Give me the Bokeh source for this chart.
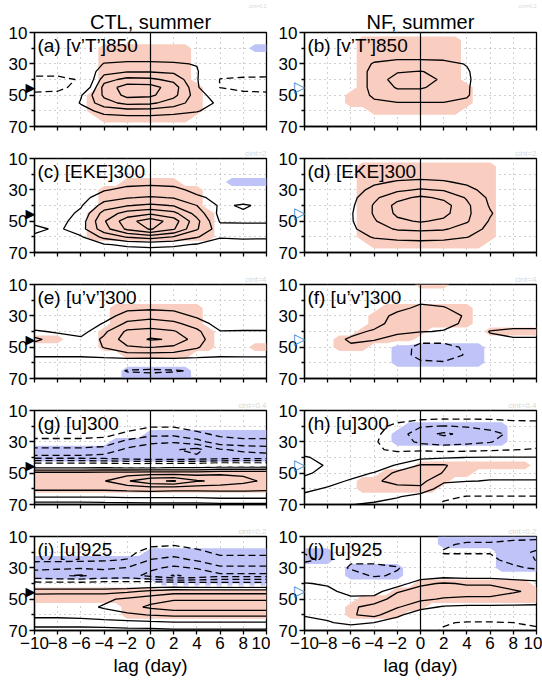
import numpy as np
from bokeh.plotting import figure
from bokeh.layouts import column, row
from bokeh.models import Range1d, FixedTicker, Span, Label, Title, LinearAxis
from bokeh.embed import file_html
from bokeh.resources import INLINE

# ---------------- axes / labels ----------------
LAGS = [-10, -8, -6, -4, -2, 0, 2, 4, 6, 8, 10]
LATS = [10, 15, 20, 25, 30, 35, 40, 45, 50, 55, 60, 65, 70]
SIG_LAGS = list(range(-10, 11))
X_TICKS = [-10, -8, -6, -4, -2, 0, 2, 4, 6, 8, 10]
X_TICK_LABELS = ["−10", "−8", "−6", "−4", "−2", "0", "2", "4", "6", "8", "10"]
Y_TICKS = [10, 30, 50, 70]
Y_MINOR_TICKS = [20, 40, 60]
GRID_LATS = [20, 30, 40, 50, 60]
POS_LEVELS = [1, 2, 3, 4, 5, 6, 7, 8]
NEG_LEVELS = [-8, -7, -6, -5, -4, -3, -2, -1]
MARKER_LAT = 45
COLUMN_TITLES = ["CTL, summer", "NF, summer"]
X_TITLE = "lag (day)"
PANEL_LABELS = ["(a) [v’T’]850", "(b) [v’T’]850", "(c) [EKE]300", "(d) [EKE]300",
                "(e) [u’v’]300", "(f) [u’v’]300", "(g) [u]300", "(h) [u]300",
                "(i) [u]925", "(j) [u]925"]
CINT_LABELS = ["cint=0.2", "cint=0.2", "cint=2", "cint=2", "cint=4", "cint=4",
               "cint=0.4", "cint=0.4", "cint=0.2", "cint=0.2"]
ZERO_LINE = [False, False, False, False, False, False, True, False, True, False]

# ---------------- contour fields (rows: lat 10..70, cols: lag -10..10) ----------------
A_Z = [
    [0, 0, 0, 0, 0, 0, 0, 0, 0, 0, 0],
    [0, 0, 0, 0.1, 0.2, 0.2, 0.2, 0.1, 0, 0, 0],
    [0, 0, 0, 0.2, 0.4, 0.4, 0.3, 0.2, 0, 0, 0],
    [-0.1, -0.1, 0.1, 0.5, 0.6, 0.6, 0.55, 0.3, 0, -0.1, -0.1],
    [-0.3, -0.3, 0.2, 1.05, 1.15, 1.15, 1.1, 0.95, 0, -0.3, -0.3],
    [-0.6, -0.6, -0.1, 1.6, 1.95, 1.95, 1.8, 1.1, -0.4, -0.5, -0.6],
    [-1.3, -1.3, -0.9, 2.6, 3.3, 3.2, 2.7, 1.1, -1.05, -1.2, -1.2],
    [-1.3, -1.3, -0.6, 3.4, 4.5, 4.4, 3.5, 1.2, -1.05, -1.2, -1.3],
    [-0.8, -0.7, 0.9, 3.2, 4.3, 4.2, 3.3, 1.5, 0.3, -0.8, -0.8],
    [-0.3, -0.2, 1.1, 2.6, 3.3, 3.2, 2.5, 1.5, 0.8, -0.2, -0.3],
    [0, 0, 0.5, 1.4, 1.6, 1.6, 1.4, 1.1, 0.4, 0, 0],
    [0, 0, 0.2, 0.5, 0.6, 0.6, 0.5, 0.4, 0.2, 0, 0],
    [0, 0, 0, 0.1, 0.1, 0.1, 0.1, 0.1, 0, 0, 0],
]
B_Z = [
    [0, 0, 0, 0, 0, 0, 0, 0, 0, 0, 0],
    [0, 0, 0, 0.1, 0.2, 0.2, 0.2, 0.1, 0, 0, 0],
    [0, 0, 0.1, 0.3, 0.4, 0.4, 0.4, 0.2, 0, 0, 0],
    [0, 0, 0.2, 0.6, 0.75, 0.75, 0.7, 0.4, 0.1, 0, 0],
    [0, 0, 0.3, 1.1, 1.3, 1.3, 1.25, 0.95, 0.3, 0, 0],
    [0, 0, 0.3, 1.3, 1.9, 2.05, 1.7, 1.1, 0.3, 0, 0],
    [0, 0, 0.3, 1.3, 2.5, 2.5, 1.8, 1.15, 0.3, 0, 0],
    [0, 0, 0.3, 1.3, 2.1, 2.1, 1.7, 1.1, 0.3, 0, 0],
    [0, 0, 0.2, 1.2, 1.6, 1.6, 1.5, 1.1, 0.2, 0, 0],
    [0, 0, 0.1, 0.8, 0.95, 0.95, 0.95, 0.8, 0.1, 0, 0],
    [0, 0, 0, 0.4, 0.5, 0.5, 0.5, 0.4, 0, 0, 0],
    [0, 0, 0, 0.1, 0.2, 0.2, 0.2, 0.1, 0, 0, 0],
    [0, 0, 0, 0, 0, 0, 0, 0, 0, 0, 0],
]
C_Z = [
    [0, 0, 0, 0, 0, 0, 0, 0, 0, 0, 0],
    [0, 0, 0, 0, 0.1, 0.1, 0.1, 0, 0, 0, 0],
    [0, 0, 0, 0.1, 0.3, 0.3, 0.3, 0.1, 0, 0, 0],
    [0, 0, 0, 0.3, 0.6, 0.7, 0.6, 0.3, 0.1, 0, 0],
    [0, 0.1, 0.3, 0.9, 1.3, 1.4, 1.3, 0.7, 0.4, 0.2, 0.1],
    [0.1, 0.2, 0.6, 1.6, 1.95, 2.1, 1.95, 1.2, 0.7, 0.5, 0.3],
    [0.2, 0.3, 0.9, 2.4, 2.95, 3.2, 2.95, 2.0, 0.85, 1.1, 0.8],
    [0.4, 0.5, 1.2, 3.4, 4.4, 4.8, 4.3, 2.6, 0.7, 0.9, 0.8],
    [0.7, 0.6, 1.5, 3.9, 5.6, 6.6, 5.5, 3.3, 0.9, 0.9, 0.9],
    [1.3, 0.8, 1.6, 3.6, 5.2, 6.1, 5.1, 3.1, 1.4, 1.3, 1.3],
    [0.8, 0.6, 0.9, 2.3, 3.1, 3.5, 2.95, 2.1, 1.1, 1.2, 1.2],
    [0.2, 0.2, 0.3, 0.9, 1.2, 1.3, 1.2, 0.9, 0.5, 0.5, 0.4],
    [0, 0, 0, 0.3, 0.4, 0.5, 0.4, 0.3, 0.1, 0.1, 0],
]
D_Z = [
    [0, 0, 0, 0, 0, 0, 0, 0, 0, 0, 0],
    [0, 0, 0, 0.1, 0.2, 0.2, 0.2, 0.1, 0, 0, 0],
    [0, 0, 0.1, 0.3, 0.5, 0.6, 0.5, 0.3, 0.1, 0, 0],
    [0, 0, 0.3, 0.8, 1.1, 1.2, 1.1, 0.8, 0.3, 0, 0],
    [0, 0.1, 0.5, 1.3, 1.8, 2.1, 1.9, 1.3, 0.6, 0.1, 0],
    [0, 0.1, 0.7, 1.8, 2.7, 3.2, 2.8, 1.9, 0.8, 0.2, 0],
    [0, 0.2, 0.8, 2.1, 3.3, 3.6, 3.4, 2.2, 0.9, 0.2, 0],
    [0, 0.2, 0.9, 2.1, 3.2, 3.5, 3.3, 2.2, 1.1, 0.2, 0],
    [0, 0.2, 0.9, 1.9, 2.8, 3.1, 2.8, 2.1, 0.9, 0.2, 0],
    [0, 0.1, 0.8, 1.6, 2.1, 2.2, 2.1, 1.6, 0.7, 0.1, 0],
    [0, 0, 0.5, 1.1, 1.3, 1.4, 1.3, 1.05, 0.4, 0, 0],
    [0, 0, 0.2, 0.5, 0.6, 0.6, 0.6, 0.4, 0.1, 0, 0],
    [0, 0, 0, 0.1, 0.2, 0.2, 0.2, 0.1, 0, 0, 0],
]
E_Z = [
    [0, 0, 0, 0, 0, 0, 0, 0, 0, 0, 0],
    [0, 0, 0, 0, 0, 0, 0, 0, 0, 0, 0],
    [0, 0, 0, 0.1, 0.2, 0.2, 0.2, 0.1, 0, 0, 0],
    [0, 0, 0, 0.2, 0.7, 0.8, 0.7, 0.3, 0, 0, 0],
    [0.1, 0.1, 0, 0.5, 1.5, 1.7, 1.5, 0.8, 0.1, 0.1, 0.1],
    [0.5, 0.4, 0.2, 1.1, 2.2, 2.4, 2.2, 1.6, 0.5, 0.3, 0.3],
    [1.1, 0.9, 0.6, 1.8, 3.2, 3.4, 3.1, 2.2, 1.05, 1.1, 1.1],
    [2.3, 1.4, 1.2, 2.2, 3.5, 4.1, 3.9, 2.4, 1.3, 1.3, 1.3],
    [1.4, 1.3, 1.3, 2.05, 2.9, 3.05, 2.8, 2.1, 1.3, 1.3, 1.3],
    [1.2, 1.2, 1.2, 1.4, 1.6, 1.6, 1.6, 1.4, 1.2, 1.2, 1.2],
    [0.3, 0.3, 0.3, 0.2, 0.2, 0.05, 0.2, 0.2, 0.3, 0.4, 0.4],
    [0, 0, 0, -0.2, -1.1, -1.2, -1.1, -0.9, 0, 0, 0],
    [0, 0, 0, -0.1, -0.5, -0.5, -0.5, -0.3, 0, 0, 0],
]
F_Z = [
    [0, 0, 0, 0, 0.1, 0.2, 0.2, 0.1, 0, 0, 0],
    [0, 0, 0, 0.1, 0.2, 0.4, 0.3, 0.1, 0, 0, 0],
    [0, 0, 0, 0.1, 0.3, 0.7, 0.5, 0.2, 0, 0, 0],
    [0, 0, 0.1, 0.2, 0.6, 1.3, 1.1, 0.4, 0.1, 0, 0],
    [0, 0, 0.2, 0.3, 1.4, 1.8, 1.7, 0.8, 0.2, 0.1, 0.1],
    [0, 0.1, 0.3, 0.5, 1.6, 1.6, 1.5, 0.7, 0.5, 0.5, 0.5],
    [0.1, 0.2, 0.6, 1.2, 1.3, 1.1, 0.9, 0.3, 1.05, 1.3, 1.3],
    [0.2, 0.4, 1.2, 1.1, 0.5, -0.7, -0.6, -0.3, 0.8, 0.9, 0.9],
    [0.1, 0.3, 0.8, 0.3, -0.5, -1.3, -1.4, -0.8, -0.4, 0, 0],
    [0, 0.1, 0.2, 0, -0.4, -1.4, -1.5, -0.9, -0.3, 0, 0],
    [0, 0, 0, 0, -0.2, -0.8, -0.9, -0.5, -0.1, 0, 0],
    [0, 0, 0, 0, -0.1, -0.3, -0.3, -0.2, 0, 0, 0],
    [0, 0, 0, 0, 0, 0, 0, 0, 0, 0, 0],
]
G_Z = [
    [0, 0, 0, 0, -0.1, -0.2, -0.2, -0.1, 0, 0, 0],
    [-0.1, -0.1, -0.1, -0.2, -0.3, -0.5, -0.5, -0.3, -0.2, -0.2, -0.2],
    [-0.3, -0.3, -0.3, -0.4, -0.6, -0.9, -0.9, -0.6, -0.4, -0.4, -0.4],
    [-0.6, -0.6, -0.6, -0.7, -1.2, -1.7, -1.7, -1.2, -0.8, -0.7, -0.7],
    [-1.3, -1.3, -1.3, -1.4, -2.3, -2.8, -2.9, -2.4, -1.4, -1.2, -1.2],
    [-2.2, -2.2, -2.2, -2.4, -3.2, -3.6, -3.9, -4.3, -3.1, -2.8, -2.6],
    [-3.3, -3.3, -3.3, -3.4, -3.7, -3.9, -3.9, -3.8, -3.6, -3.5, -3.5],
    [-0.1, -0.1, -0.1, -0.1, -0.2, -0.2, -0.1, -0.1, 0.2, 0.2, 0.2],
    [3.4, 3.4, 3.4, 3.5, 3.5, 3.6, 3.6, 3.6, 3.8, 3.8, 3.8],
    [3.7, 3.7, 3.7, 3.95, 4.9, 5.8, 6.1, 5.1, 4.8, 4.3, 3.8],
    [3.2, 3.2, 3.2, 3.2, 3.3, 3.4, 3.3, 3.3, 3.3, 3.3, 3.2],
    [2.1, 2.1, 2.1, 2.1, 2.2, 2.2, 2.2, 2.2, 2.3, 2.3, 2.3],
    [0.5, 0.5, 0.5, 0.6, 0.6, 0.7, 0.7, 0.7, 0.8, 0.8, 0.8],
]
H_Z = [
    [0, 0, 0, 0, -0.2, -0.4, -0.4, -0.4, -0.4, -0.4, -0.4],
    [0, 0, 0, -0.3, -0.6, -0.8, -0.9, -0.9, -0.9, -0.8, -0.8],
    [0, 0, -0.1, -0.6, -1.3, -1.9, -2.05, -1.9, -1.7, -1.5, -1.4],
    [0, 0, -0.2, -0.8, -1.5, -2.6, -3.2, -2.7, -2.3, -1.8, -1.6],
    [0.2, 0, -0.1, -0.9, -1.5, -2.2, -2.3, -2.2, -2.05, -1.6, -1.5],
    [0.5, 0.3, 0.1, -0.7, -1.4, -1.3, -1.6, -1.5, -1.3, -1.05, -0.9],
    [1.1, 0.7, 0.4, -0.1, 0.2, 0.7, 0.9, 1.02, 1.1, 1.1, 1.1],
    [1.4, 0.9, 0.6, 0.5, 1.1, 2.1, 2.1, 1.5, 1.4, 1.4, 1.4],
    [1.1, 0.8, 0.7, 1.05, 2.3, 2.5, 1.95, 1.4, 1.3, 1.3, 1.3],
    [0.8, 0.7, 1.1, 1.8, 2.4, 2.3, 1.2, 1.05, 0.95, 0.95, 0.95],
    [0.8, 1.1, 1.5, 1.9, 1.6, 1.8, 0.4, 0.2, -0.3, -0.3, -0.3],
    [1.2, 1.4, 1.5, 1.5, 1.1, 0.5, -0.6, -1.1, -1.05, -1.05, -1.05],
    [1.3, 1.2, 1.05, 0.8, 0.4, 0.05, -1.3, -1.2, -1.3, -1.3, -1.3],
]
I_Z = [
    [0, 0, 0, 0, -0.1, -0.3, -0.4, -0.3, -0.2, -0.2, -0.2],
    [-0.1, -0.1, -0.1, -0.2, -0.4, -0.8, -0.9, -0.7, -0.5, -0.5, -0.5],
    [-0.4, -0.4, -0.4, -0.5, -0.7, -1.4, -1.6, -1.2, -0.8, -0.8, -0.8],
    [-0.8, -0.8, -0.8, -0.9, -1.05, -2.05, -2.3, -1.9, -1.3, -1.3, -1.3],
    [-1.7, -1.8, -1.9, -1.8, -2.05, -2.8, -3.2, -2.9, -2.2, -2.2, -2.2],
    [-2.7, -2.9, -3.1, -2.7, -2.6, -3.3, -4.1, -3.8, -3.3, -3.3, -3.3],
    [-0.6, -0.6, -0.6, -0.5, -0.5, -0.3, -0.4, -0.5, -0.6, -0.6, -0.6],
    [1.6, 1.6, 1.6, 1.6, 1.8, 2.2, 2.6, 2.6, 2.6, 2.6, 2.6],
    [2.7, 2.8, 2.8, 2.8, 3.2, 3.6, 3.9, 3.9, 3.9, 3.9, 3.9],
    [2.5, 2.6, 2.7, 3.1, 3.6, 4.2, 4.6, 4.6, 4.6, 4.6, 4.6],
    [2.3, 2.3, 2.4, 2.6, 2.8, 3.05, 3.2, 3.2, 3.2, 3.2, 3.2],
    [1.5, 1.5, 1.5, 1.6, 1.7, 1.8, 1.9, 1.9, 1.9, 1.9, 1.9],
    [0.6, 0.6, 0.6, 0.6, 0.7, 0.7, 0.8, 0.8, 0.8, 0.8, 0.8],
]
J_Z = [
    [-0.2, -0.1, 0, 0, 0, -0.1, -0.5, -0.7, -0.7, -0.8, -0.8],
    [-0.6, -0.4, -0.2, -0.1, -0.1, -0.3, -0.9, -1.1, -1.1, -1.2, -1.3],
    [-0.95, -0.7, -0.5, -0.3, -0.3, -0.5, -1.05, -1.05, -1.05, -1.4, -2.2],
    [-1.2, -0.8, -0.9, -0.8, -0.7, -0.9, -0.8, -0.8, -0.8, -1.3, -2.05],
    [-0.5, -0.5, -1.1, -1.2, -1.05, -0.6, -0.3, -0.4, -0.4, -0.8, -1.2],
    [0.4, 0.2, -0.6, -1.1, -0.9, 0.2, 0.6, 0.5, 0.5, 0.4, 0.2],
    [1.05, 0.9, 0.2, -0.2, 0.3, 1.8, 2.1, 1.9, 1.9, 1.6, 1.4],
    [1.3, 1.2, 0.7, 0.5, 1.9, 2.4, 2.5, 2.4, 2.4, 2.1, 1.8],
    [1.2, 1.3, 1.2, 1.4, 2.5, 2.2, 1.9, 1.8, 1.8, 1.6, 1.5],
    [1.1, 1.4, 1.8, 2.4, 2.1, 1.3, 0.9, 0.8, 0.8, 0.8, 0.8],
    [1.05, 1.3, 1.9, 2.3, 1.2, 0.4, 0.05, -0.2, -0.2, -0.2, -0.2],
    [0.8, 0.9, 1.3, 1.0, 0.5, -0.4, -0.9, -1.1, -1.1, -1.0, -0.9],
    [-0.2, -0.1, 0.2, 0.3, 0.1, -0.6, -1.1, -1.2, -1.2, -1.2, -1.1],
]

# ---------------- significance (rows: lat 10..70, chars: lag -10..10 by 1 day) ----------------
# '+' significant positive (red), '-' significant negative (blue), '.' not significant
A_SIG = [".....................", ".....................", "......++++++++.....--",
         "......++++++++.......", "......++++++++.......", "......++++++++.......",
         "......++++++++.......", "......+++++++++......", ".....++++++++++......",
         ".....++++++++++......", ".....++++++++++......", "......++++++++.......",
         "....................."]
B_SIG = [".....................", ".....+++++++++.......", ".....+++++++++.......",
         ".....+++++++++.......", ".....+++++++++.......", ".....+++++++++.......",
         ".....+++++++++.......", ".....++++++++++......", "....+++++++++++......",
         "....+++++++++++......", "......++++++++.......", ".....................",
         "....................."]
C_SIG = [".....................", ".....................", ".....................",
         "........+++++....----", "......+++++++++......", "......+++++++++......",
         "......+++++++++......", ".....+++++++++++.....", ".....+++++++++++.....",
         ".....+++++++++++.....", ".....+++++++++++.....", ".....................",
         "....................."]
D_SIG = [".....................", ".....++++++++++++....", ".....++++++++++++....",
         ".....++++++++++++....", ".....++++++++++++....", ".....++++++++++++....",
         ".....++++++++++++....", ".....++++++++++++....", ".....++++++++++++....",
         ".....++++++++++++....", ".....++++++++++++....", "......++++++++++.....",
         "....................."]
E_SIG = [".....................", ".....................", ".....................",
         ".......++++++++......", ".......++++++++......", ".......++++++++......",
         "......++++++++++.....", "+++...++++++++++.....", "......++++++++++...++",
         "........++++++.......", ".....................", "........------.......",
         "........------......."]
F_SIG = ["..........+++........", ".....................", ".....................",
         ".......++++++++......", "......+++++++++......", "......+++++++++......",
         ".....++++++.....+++++", "...+++++++...........", "...+++..--------.....",
         "........--------.....", "........--------.....", ".....................",
         "....................."]
G_SIG = [".....................", ".....................", ".....................",
         "..........-----------", ".......--------------", "---------------------",
         "---------------------", ".....................", "+++++++++++++++++++++",
         "+++++++++++++++++++++", "+++++++++++++++++++++", ".....................",
         "....................."]
H_SIG = [".....................", ".....................", ".........---------...",
         "........----------...", "........----------...", ".....................",
         ".....................", "..........++++++++++.", ".......++++++++......",
         ".....++++++++........", ".....+++++++.........", ".....................",
         "....................."]
I_SIG = [".....................", ".....................", "..........-----------",
         "---------------------", "---------------------", "---------------------",
         "...........----------", "+++++++++++++++++++++", "+++++++++++++++++++++",
         "........+++++++++++++", "........+++++++++++++", ".....................",
         "....................."]
J_SIG = ["............---------", "............---------", "---..............----",
         "---..............----", "....-----........----", "....-----............",
         "..........++++++++++.", "........+++++++++++++", ".....++++++++++++++++",
         "....+++++++..........", "....+++++............", ".....................",
         "....................."]

FIELDS = [A_Z, B_Z, C_Z, D_Z, E_Z, F_Z, G_Z, H_Z, I_Z, J_Z]
SIGS = [A_SIG, B_SIG, C_SIG, D_SIG, E_SIG, F_SIG, G_SIG, H_SIG, I_SIG, J_SIG]

# ---------------- styling ----------------
PINK = "#f9cdbf"
BLUE = "#c0c3f8"
FONT = "Liberation Sans"
SIG_CODE = {"+": 1.0, "-": -1.0, ".": 0.0}
MARKERS = [("▶", "black", "13px"), ("▷", "#2f86d0", "15px")]


def make_panel(k):
    col = k % 2
    r = k // 2
    first, last = r == 0, r == 4
    p = figure(frame_width=232, frame_height=94,
               min_border_left=34, min_border_right=4 if col == 0 else 6,
               min_border_top=32 if first else 20,
               min_border_bottom=52 if last else 12,
               x_range=Range1d(-10, 10), y_range=Range1d(70, 10),
               output_backend="svg", toolbar_location=None, tools="")
    p.background_fill_color = "white"
    p.border_fill_color = "white"
    p.outline_line_color = "black"
    p.outline_line_width = 1.3

    z = np.array(FIELDS[k], dtype=float)
    s = np.array([[SIG_CODE[c] for c in line] for line in SIGS[k]], dtype=float)

    if (s > 0.5).any():
        p.contour(SIG_LAGS, LATS, s, levels=[0.5, 2.0], fill_color=PINK, line_color=None)
    if (s < -0.5).any():
        p.contour(SIG_LAGS, LATS, s, levels=[-2.0, -0.5], fill_color=BLUE, line_color=None)

    p.contour(LAGS, LATS, z, levels=POS_LEVELS, line_color="black", line_width=1.3)
    p.contour(LAGS, LATS, z, levels=NEG_LEVELS, line_color="black", line_width=1.3,
              line_dash="7 4")
    if ZERO_LINE[k]:
        p.contour(LAGS, LATS, z, levels=[0.0], line_color="white", line_width=3,
                  line_dash="6 5")

    p.add_layout(Span(location=0, dimension="height", line_color="black", line_width=1.2))

    # grids
    p.xgrid.ticker = FixedTicker(ticks=X_TICKS)
    p.ygrid.ticker = FixedTicker(ticks=GRID_LATS)
    for g in (p.xgrid, p.ygrid):
        g.grid_line_color = "#a0a0a0"
        g.grid_line_dash = "1 4"
        g.grid_line_width = 1

    # x axis
    xa = p.xaxis[0]
    xa.ticker = FixedTicker(ticks=X_TICKS)
    xa.axis_line_width = 1.3
    xa.major_tick_line_width = 1.3
    xa.major_tick_out = 4
    xa.major_tick_in = 0
    xa.minor_tick_out = 0
    xa.minor_tick_in = 0
    if last:
        xa.major_label_overrides = {t: lab for t, lab in zip(X_TICKS, X_TICK_LABELS)}
        xa.major_label_text_font = FONT
        xa.major_label_text_font_size = "17px"
        xa.major_label_text_color = "black"
        xa.major_label_standoff = 2
        xa.axis_label = X_TITLE
        xa.axis_label_text_font = FONT
        xa.axis_label_text_font_size = "19px"
        xa.axis_label_text_font_style = "normal"
        xa.axis_label_text_color = "black"
        xa.axis_label_standoff = 3
    else:
        xa.major_label_overrides = {t: "" for t in X_TICKS}
        xa.major_label_text_font_size = "1px"
        xa.major_label_standoff = 0

    # y axis
    ya = p.yaxis[0]
    ya.ticker = FixedTicker(ticks=Y_TICKS, minor_ticks=Y_MINOR_TICKS)
    ya.axis_line_width = 1.3
    ya.major_tick_line_width = 1.3
    ya.minor_tick_line_width = 1.3
    ya.major_tick_out = 5
    ya.major_tick_in = 0
    ya.minor_tick_out = 3
    ya.minor_tick_in = 0
    ya.major_label_text_font = FONT
    ya.major_label_text_font_size = "17px"
    ya.major_label_text_color = "black"
    ya.major_label_standoff = 2

    # marker (triangle) shown as the label of an extra left axis, pulled toward the frame
    sym, colr, msize = MARKERS[col]
    ma = LinearAxis(ticker=FixedTicker(ticks=[MARKER_LAT], minor_ticks=[]),
                    major_label_overrides={MARKER_LAT: sym},
                    axis_line_color=None, major_tick_line_color=None,
                    minor_tick_line_color=None, major_tick_out=0, major_tick_in=0,
                    major_label_text_font="DejaVu Sans",
                    major_label_text_font_size=msize,
                    major_label_text_color=colr,
                    major_label_standoff=-30)
    p.add_layout(ma, "left")

    # texts
    p.add_layout(Label(x=-9.75, y=11.3, text=PANEL_LABELS[k], text_font=FONT,
                       text_font_size="19px", text_baseline="top", text_align="left",
                       text_color="black"))
    if first:
        p.add_layout(Title(text=COLUMN_TITLES[col], align="center", text_font=FONT,
                           text_font_size="20px", text_font_style="normal",
                           text_color="black", standoff=0), "above")
        cint_size, cint_standoff = "5px", 0
    else:
        cint_size, cint_standoff = "8px", 1
    p.add_layout(Title(text=CINT_LABELS[k], align="right", text_font=FONT,
                       text_font_size=cint_size, text_font_style="normal",
                       text_color="#d8d8d8", standoff=cint_standoff), "above")
    return p


panels = [make_panel(k) for k in range(10)]
layout = column(*[row(panels[2 * i], panels[2 * i + 1]) for i in range(5)])

open("out.html", "w").write(file_html(layout, INLINE))
